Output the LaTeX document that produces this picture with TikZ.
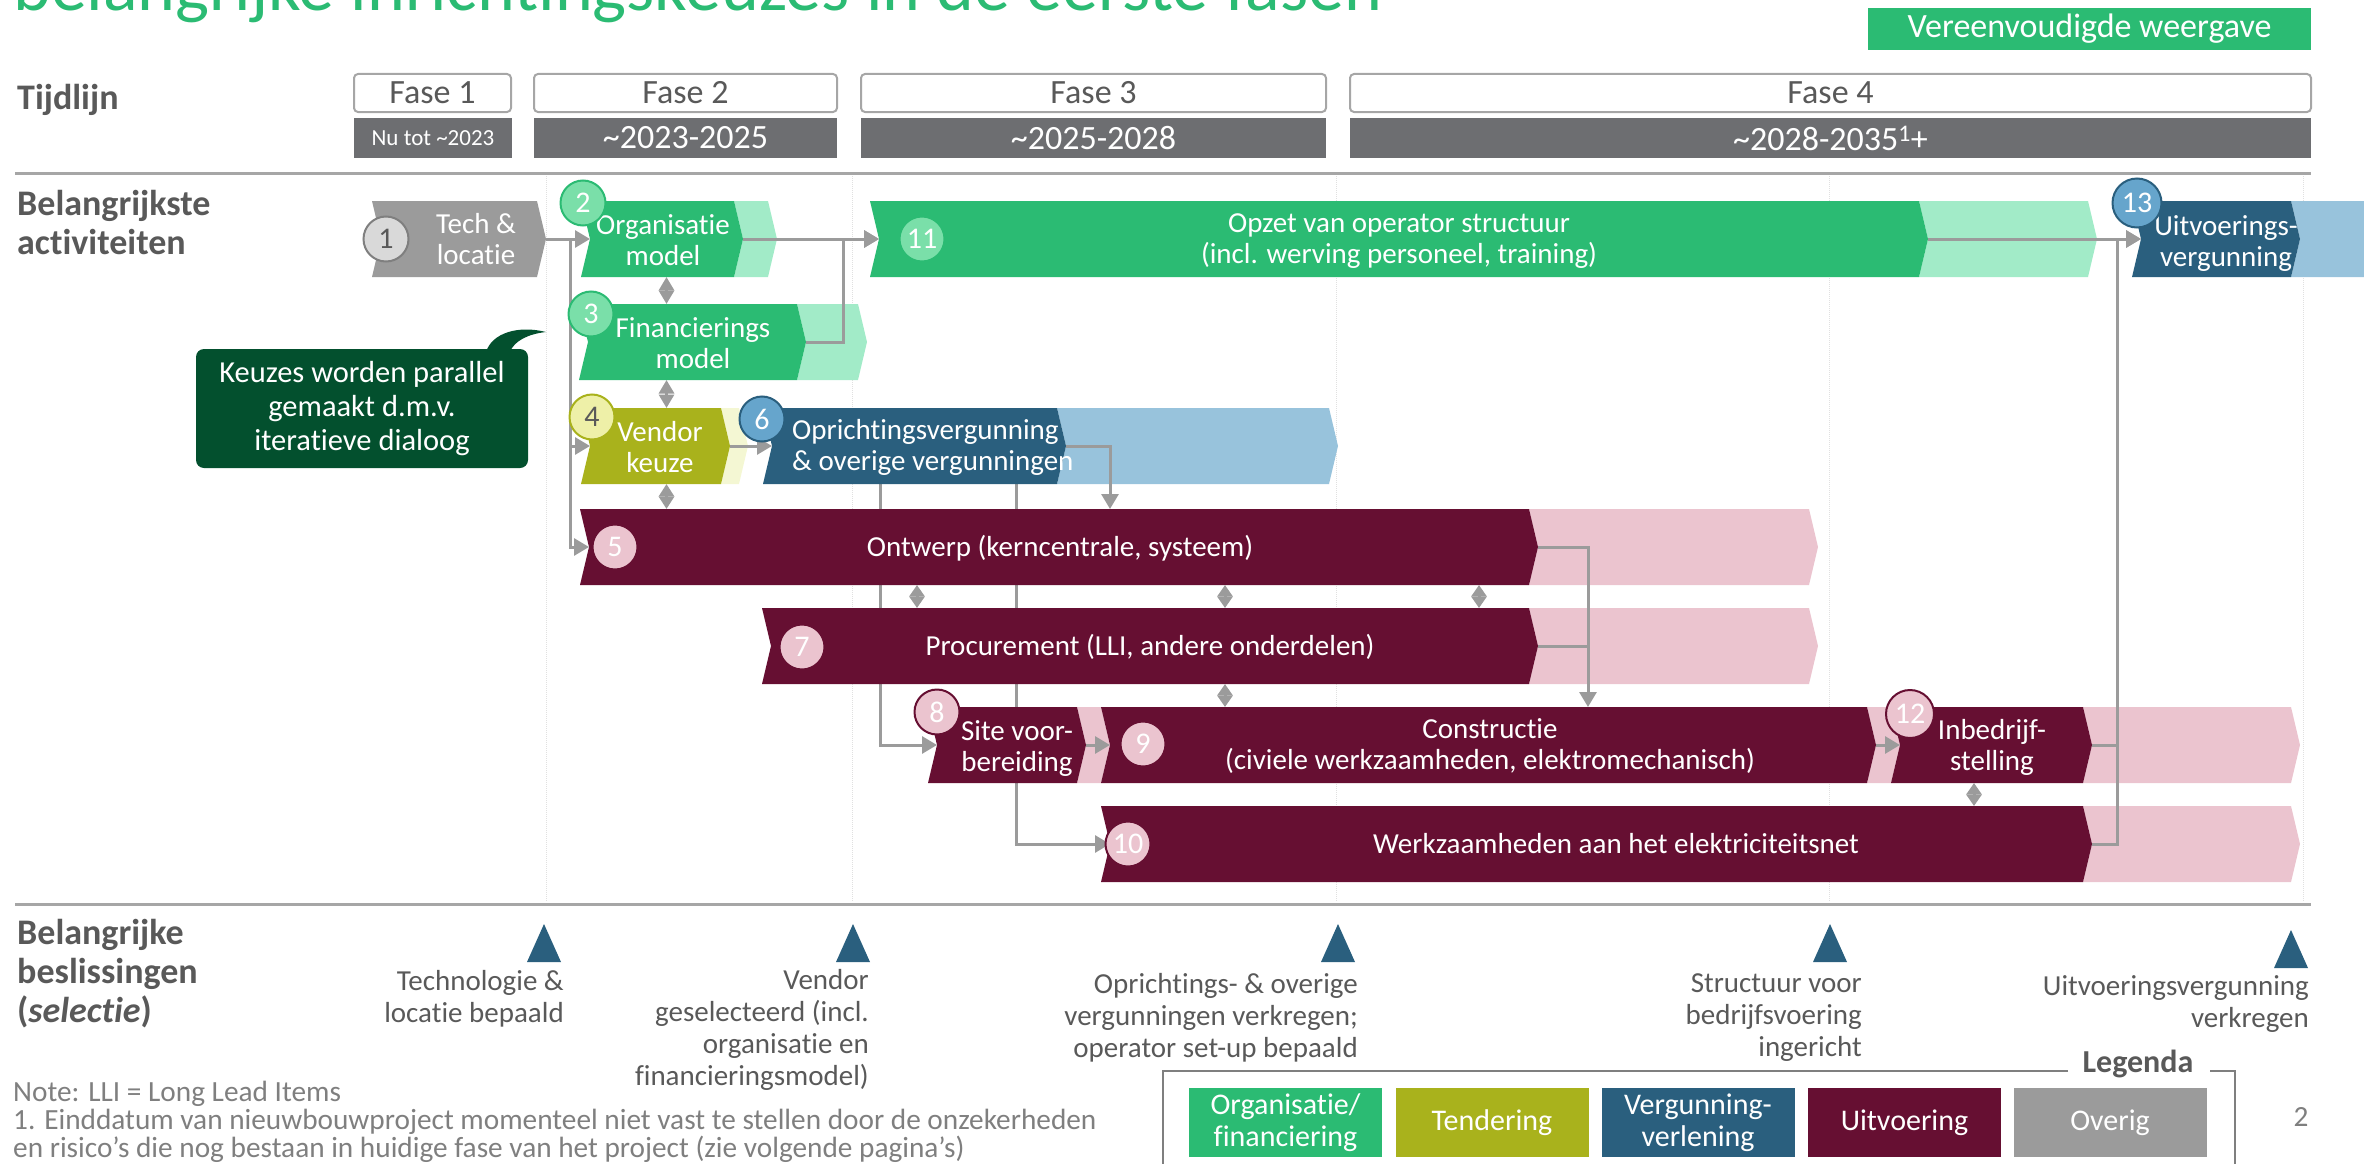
\documentclass[tikz,border=0pt]{standalone}
\usepackage{fontspec}
\setmainfont{Carlito}[Ligatures={NoCommon,NoRare}, Contextuals=NoAlternate]
\usetikzlibrary{arrows.meta}

\definecolor{orggreen}{HTML}{2BBB73}
\definecolor{orglight}{HTML}{A2EBC8}
\definecolor{orgdot}{HTML}{7ADFA9}
\definecolor{tendolive}{HTML}{A9B21C}
\definecolor{tendlight}{HTML}{F4F7D3}
\definecolor{tenddot}{HTML}{EEF0A8}
\definecolor{vergblue}{HTML}{2A5F7E}
\definecolor{verglight}{HTML}{98C3DC}
\definecolor{vergdot}{HTML}{66A5CC}
\definecolor{uitwine}{HTML}{660F32}
\definecolor{uitlight}{HTML}{EBC4CF}
\definecolor{overgray}{HTML}{9B9B9B}
\definecolor{overdot}{HTML}{D9D9D9}
\definecolor{calloutgreen}{HTML}{03502E}
\definecolor{yeargray}{HTML}{6D6E71}
\definecolor{labelgray}{HTML}{595959}
\definecolor{linegray}{HTML}{A6A6A6}
\definecolor{notegray}{HTML}{7F7F7F}

\pgfdeclarelayer{back}
\pgfdeclarelayer{bg}
\pgfsetlayers{back,bg,main}

% chevron bar: name, left x, right x, top y, colour
\newcommand{\chev}[5]{%
  \fill[#5] (#2,#4) -- (#2+9,#4+38) -- (#2,#4+76) -- (#3,#4+76) -- (#3+9,#4+38) -- (#3,#4) -- cycle;
  \node[barbox, minimum width={(#3-#2)*1pt}] (#1) at ({(#2+#3)/2+9},{#4+38}) {};
}

\tikzset{
  barbox/.style={inner sep=0pt, outer sep=0pt, minimum height=76pt},
  bartext/.style={text=white, align=center, inner sep=0pt, font=\fontsize{29}{31}\selectfont},
  numdot/.style={circle, minimum size=45pt, inner sep=0pt, line width=2pt, text=white, font=\fontsize{30}{30}\selectfont},
  arr/.style={draw=overgray, line width=3pt, -{Triangle[length=15pt,width=17pt]}},
  conn/.style={draw=overgray, line width=3pt},
  dia/.style={draw=overgray, line width=3pt, {Triangle[length=#1,width=15pt]}-{Triangle[length=#1,width=15pt]}},
  rowlabel/.style={text=labelgray, align=left, inner sep=0pt, font=\bfseries\fontsize{36}{39}\selectfont},
  fasebox/.style={draw=linegray, line width=2pt, fill=white, rounded corners=4pt, minimum height=38pt, inner sep=0pt, text=labelgray, font=\fontsize{34}{34}\selectfont},
  yearbox/.style={fill=yeargray, minimum height=40pt, inner sep=0pt, text=white, font=\fontsize{34}{34}\selectfont},
  dectext/.style={text=labelgray, align=right, inner sep=0pt, font=\fontsize{29}{32}\selectfont},
  notetext/.style={text=notegray, align=left, inner sep=0pt, font=\fontsize{29.3}{28}\selectfont},
  legbox/.style={minimum width=193pt, minimum height=69pt, inner sep=0pt, text=white, align=center, font=\fontsize{30}{32}\selectfont},
  legframe/.style={draw=notegray, line width=2pt},
  sepline/.style={draw=linegray, line width=3pt},
  gridline/.style={draw=black!12, line width=1pt, densely dotted},
}

\begin{document}
\begin{tikzpicture}[x=1pt,y=-1pt]
\useasboundingbox (0,0) rectangle (2364,1164);

% header
\node[anchor=base west, inner sep=0pt, text=orggreen, font=\fontsize{72}{72}\selectfont] (title) at (13,11) {belangrijke inrichtingskeuzes in de eerste fasen};
\node[fill=orggreen, minimum width=443pt, minimum height=42pt, inner sep=0pt, text=white, font=\fontsize{34}{34}\selectfont] (simple) at (2089.5,29) {Vereenvoudigde weergave};

% timeline
\node[rowlabel, anchor=west] (lbltime) at (17,100) {Tijdlijn};
\foreach \n/\a/\b in {1/354/511, 2/534/837, 3/861/1326, 4/1350/2311}
  \node[fasebox, minimum width={(\b-\a)*1pt}] (fase\n) at ({(\a+\b)/2},93) {Fase \n};
\node[yearbox, minimum width=158pt, font=\fontsize{23}{23}\selectfont] (year1) at (433,138) {Nu tot \textasciitilde2023};
\node[yearbox, minimum width=303pt] (year2) at (685.5,138) {\textasciitilde2023-2025};
\node[yearbox, minimum width=465pt] (year3) at (1093.5,138) {\textasciitilde2025-2028};
\node[yearbox, minimum width=961pt] (year4) at (1830.5,138) {\textasciitilde2028-2035\textsuperscript{1}+};

\draw[sepline] (15,173) -- (2311,173);
\draw[sepline] (15,904) -- (2311,904);

\node[rowlabel, anchor=north west] (lblact) at (17,190) {Belangrijkste\\activiteiten};

% light tails of the bars
\begin{pgfonlayer}{back}
\foreach \x in {546,852,1336,1829,2303}
  \draw[gridline] (\x,176) -- (\x,901);
\chev{n2l}{734}{768}{201}{orglight}
\chev{n11l}{1919}{2088}{201}{orglight}
\chev{n13l}{2291}{2420}{201}{verglight}
\chev{n3l}{797}{858}{304}{orglight}
\chev{n4l}{721}{739}{408}{tendlight}
\chev{n6l}{1057}{1329}{408}{verglight}
\chev{n5l}{1529}{1809}{509}{uitlight}
\chev{n7l}{1529}{1809}{608}{uitlight}
\chev{n8l}{1077}{1101}{707}{uitlight}
\chev{n9l}{1867}{1891}{707}{uitlight}
\chev{n12l}{2083}{2291}{707}{uitlight}
\chev{n10l}{2083}{2291}{806}{uitlight}
\end{pgfonlayer}

% activities
\chev{n1}{372}{537}{201}{overgray}
\chev{n2}{581}{734}{201}{orggreen}
\chev{n11}{870}{1919}{201}{orggreen}
\chev{n13}{2132}{2291}{201}{vergblue}
\chev{n3}{579}{797}{304}{orggreen}
\chev{n4}{581}{721}{408}{tendolive}
\chev{n6}{763}{1057}{408}{vergblue}
\chev{n5}{580}{1529}{509}{uitwine}
\chev{n7}{762}{1529}{608}{uitwine}
\chev{n8}{928}{1077}{707}{uitwine}
\chev{n9}{1101}{1867}{707}{uitwine}
\chev{n12}{1891}{2083}{707}{uitwine}
\chev{n10}{1101}{2083}{806}{uitwine}

\node[bartext] (t1) at (476,239) {Tech \&\\locatie};
\node[bartext] (t2) at (663,240) {Organisatie\\model};
\node[bartext] (t11) at (1399,241) {Opzet van operator structuur\\(incl. werving personeel, training)};
\node[bartext] (t13) at (2226,244) {Uitvoerings-\\vergunning};
\node[bartext] (t3) at (693,343) {Financierings\\model};
\node[bartext] (t4) at (660,447) {Vendor\\keuze};
\node[bartext, anchor=west, align=left] (t6) at (792,447) {Oprichtingsvergunning\\\& overige vergunningen};
\node[bartext] (t5) at (1060,548) {Ontwerp (kerncentrale, systeem)};
\node[bartext] (t7) at (1150,647) {Procurement (LLI, andere onderdelen)};
\node[bartext] (t8) at (1017,749) {Site voor-\\bereiding};
\node[bartext] (t9) at (1490,746) {Constructie\\(civiele werkzaamheden, elektromechanisch)};
\node[bartext] (t12) at (1992,747) {Inbedrijf-\\stelling};
\node[bartext] (t10) at (1616,844) {Werkzaamheden aan het elektriciteitsnet};

\node[numdot, fill=overdot, draw=notegray, text=labelgray] (c1) at (386,239) {1};
\node[numdot, fill=orgdot, draw=orggreen] (c2) at (583,203) {2};
\node[numdot, fill=orgdot, draw=orggreen] (c3) at (591,314) {3};
\node[numdot, fill=tenddot, draw=tendolive, text=labelgray] (c4) at (592,417) {4};
\node[numdot, fill=uitlight, draw=uitwine] (c5) at (615,547) {5};
\node[numdot, fill=vergdot, draw=vergblue] (c6) at (762,419) {6};
\node[numdot, fill=uitlight, draw=uitwine] (c7) at (802,647) {7};
\node[numdot, fill=uitlight, draw=uitwine] (c8) at (937,712) {8};
\node[numdot, fill=uitlight, draw=uitwine] (c9) at (1143,744) {9};
\node[numdot, fill=uitlight, draw=uitwine] (c10) at (1128,844) {10};
\node[numdot, fill=orgdot, draw=orggreen] (c11) at (922,239) {11};
\node[numdot, fill=uitlight, draw=uitwine, minimum size=48pt] (c12) at (1910,714) {12};
\node[numdot, fill=vergdot, draw=vergblue, minimum size=49pt] (c13) at (2137,203) {13};

% callout
\node[fill=calloutgreen, rounded corners=8pt, minimum width=332pt, minimum height=119pt, inner sep=0pt, text=white, align=center, font=\fontsize{30.5}{34}\selectfont] (callout) at (362,408.5) {Keuzes worden parallel\\gemaakt d.m.v.\\iteratieve dialoog};
\fill[calloutgreen] (486,352) .. controls (492,333) and (518,325) .. (546,332) .. controls (528,334) and (514,341) .. (510,352) -- cycle;

% connectors
\begin{pgfonlayer}{bg}
\draw[arr] (n1.east) -- (n2.west);
\draw[arr] (n1.east) -- ++(24,0) |- (n4.west);
\draw[arr] (n1.east) -- ++(24,0) |- (n5.west);
\draw[arr] (n2.east) -- (n11.west);
\draw[arr] (n3.east) -- ++(37,0) |- (n11.west);
\draw[arr] (n4.east) -- (n6.west);
\draw[arr] (n6.east) -| (n5.north -| 1110,0);
\draw[arr] (n6.south -| 880,0) |- (n8.west);
\draw[arr] (n6.south -| 1016,0) |- (n10.west);
\draw[arr] (n8.east) -- (n9.west);
\draw[arr] (n5.east) -| (n9.north -| 1588,0);
\draw[conn] (n7.east) -- (n7.east -| 1588,0);
\draw[arr] (n9.east) -- (n12.west);
\draw[arr] (n11.east) -- (n13.west);
\draw[arr] (n10.east) -- (n10.east -| 2117,0) |- (n13.west);
\draw[conn] (n12.east) -- (n12.east -| 2117,0);
\draw[dia=13.5pt] (n2.south) -- (n3.north -| n2.south);
\draw[dia=13.5pt] (n3.south -| n2.south) -- (n4.north -| n2.south);
\draw[dia=12.5pt] (n4.south -| n2.south) -- (n5.north -| n2.south);
\foreach \x in {917,1225,1479}
  \draw[dia=11.5pt] (n5.south -| \x,0) -- (n7.north -| \x,0);
\draw[dia=11.5pt] (n7.south -| 1225,0) -- (n9.north -| 1225,0);
\draw[dia=11.5pt] (n12.south -| 1974,0) -- (n10.north -| 1974,0);
\end{pgfonlayer}

% decisions
\node[rowlabel, anchor=north west] (lbldec) at (17,919) {Belangrijke\\beslissingen\\(\textit{selectie})};
\foreach \x/\y in {544/924, 853/924, 1338/924, 1830/924, 2291/930}
  \fill[vergblue] (\x-17,\y+38) -- (\x,\y) -- (\x+17,\y+38) -- cycle;
\node[dectext, anchor=north east] (dec1) at (564,970) {Technologie \&\\locatie bepaald};
\node[dectext, anchor=north east] (dec2) at (869,969) {Vendor\\geselecteerd (incl.\\organisatie en\\financieringsmodel)};
\node[dectext, anchor=north east] (dec3) at (1358,973) {Oprichtings- \& overige\\vergunningen verkregen;\\operator set-up bepaald};
\node[dectext, anchor=north east] (dec4) at (1862,973) {Structuur voor\\bedrijfsvoering\\ingericht};
\node[dectext, anchor=north east] (dec5) at (2309,975) {Uitvoeringsvergunning\\verkregen};

% notes
\node[notetext, anchor=north west] (note) at (13,1081) {Note: LLI = Long Lead Items\\1. Einddatum van nieuwbouwproject momenteel niet vast te stellen door de onzekerheden\\en risico's die nog bestaan in huidige fase van het project (zie volgende pagina's)};
\node[notetext] (pagenr) at (2301,1117) {2};

% legend
\draw[legframe] (2068,1071) -- (1163,1071) -- (1163,1170);
\draw[legframe] (2210,1071) -- (2235,1071) -- (2235,1170);
\node[inner sep=0pt, text=labelgray, font=\bfseries\fontsize{32}{32}\selectfont] (legtitle) at (2138,1064) {Legenda};
\node[legbox, fill=orggreen] (leg1) at (1285.5,1122.5) {Organisatie/\\financiering};
\node[legbox, fill=tendolive] (leg2) at (1492,1122.5) {Tendering};
\node[legbox, fill=vergblue] (leg3) at (1698,1122.5) {Vergunning-\\verlening};
\node[legbox, fill=uitwine] (leg4) at (1904.5,1122.5) {Uitvoering};
\node[legbox, fill=overgray] (leg5) at (2110,1122.5) {Overig};

\end{tikzpicture}
\end{document}
